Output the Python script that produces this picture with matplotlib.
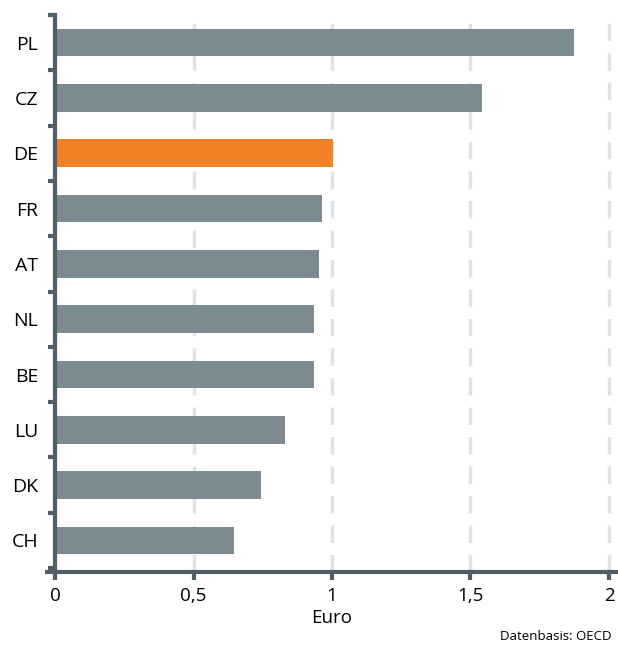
import numpy as np
import matplotlib
matplotlib.use("Agg")
import matplotlib.pyplot as plt

countries = ["PL", "CZ", "DE", "FR", "AT", "NL", "BE", "LU", "DK", "CH"]
values = [1.875, 1.54, 1.005, 0.963, 0.953, 0.934, 0.934, 0.832, 0.744, 0.646]
highlight = "DE"
xticks = [0, 0.5, 1, 1.5, 2]
xticklabels = ["0", "0,5", "1", "1,5", "2"]

gray = "#7b8b91"
orange = "#f28125"
axis_col = "#4e5f68"
grid_col = "#dde3e6"

plt.rcParams["font.family"] = ["Open Sans", "DejaVu Sans"]

fig = plt.figure(figsize=(6.18, 6.46), dpi=100)
ax = fig.add_axes([0.0756, 0.1146, 0.921, 0.8622])

for s in ["top", "right"]:
    ax.spines[s].set_visible(False)
ax.spines["left"].set_position(("data", 0))
for s in ["left", "bottom"]:
    ax.spines[s].set_color(axis_col)
    ax.spines[s].set_linewidth(3)
    ax.spines[s].set_zorder(4)

y = np.arange(len(countries))
colors = [orange if c == highlight else gray for c in countries]
ax.barh(y, values, height=0.5, color=colors, zorder=3)

ax.set_xlim(-0.03, 2.025)
ax.set_ylim(9.57, -0.5)

ax.set_xticks(xticks)
ax.set_xticklabels(xticklabels)
ax.set_yticks(y)
ax.set_yticklabels(countries)
ax.set_yticks(np.arange(len(countries) + 1) - 0.5, minor=True)

ax.tick_params(axis="y", which="major", length=0, pad=12, labelsize=14)
ax.tick_params(axis="y", which="minor", length=5, width=3, color=axis_col)
ax.tick_params(axis="x", length=6, width=3, color=axis_col, pad=5, labelsize=13.5)

for x in xticks[1:]:
    ax.axvline(x, color=grid_col, lw=2.5, ls=(0, (5, 3.5)), zorder=1)

ax.set_xlabel("Euro", fontsize=13.5, labelpad=3)
fig.text(0.989, 0.004, "Datenbasis: OECD", ha="right", va="bottom", fontsize=9.5)

fig.savefig("out.png", dpi=100)
